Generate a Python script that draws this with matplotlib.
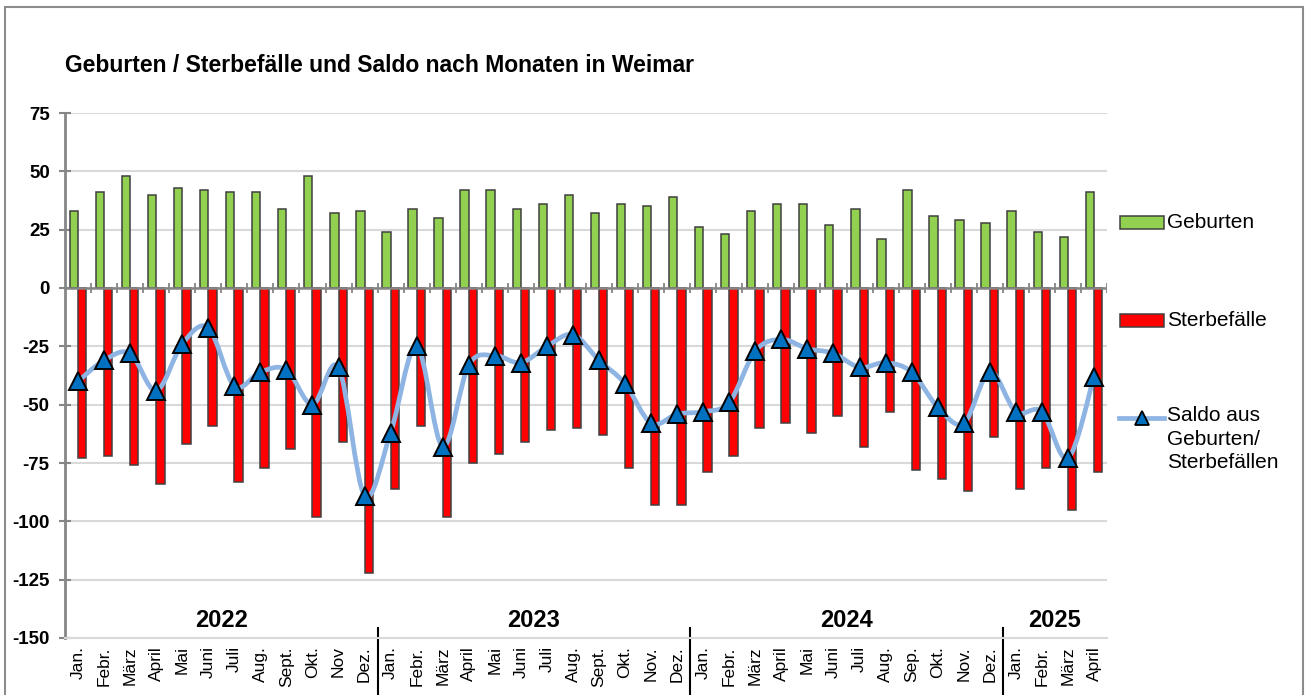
import matplotlib
matplotlib.use("Agg")
import matplotlib.pyplot as plt
import matplotlib.transforms as mtransforms
from matplotlib.path import Path
from matplotlib.patches import PathPatch, Rectangle
from matplotlib.lines import Line2D
import numpy as np

plt.rcParams['font.family'] = ['Liberation Sans', 'DejaVu Sans']

# ---- data ----
monate = ["Jan.", "Febr.", "März", "April", "Mai", "Juni", "Juli", "Aug.", "Sept.", "Okt.", "Nov", "Dez.",
          "Jan.", "Febr.", "März", "April", "Mai", "Juni", "Juli", "Aug.", "Sept.", "Okt.", "Nov.", "Dez.",
          "Jan.", "Febr.", "März", "April", "Mai", "Juni", "Juli", "Aug.", "Sep.", "Okt.", "Nov.", "Dez.",
          "Jan.", "Febr.", "März", "April"]
jahre = ["2022", "2023", "2024", "2025"]
monate_pro_jahr = [12, 12, 12, 4]

geburten = [33, 41, 48, 40, 43, 42, 41, 41, 34, 48, 32, 33,
            24, 34, 30, 42, 42, 34, 36, 40, 32, 36, 35, 39,
            26, 23, 33, 36, 36, 27, 34, 21, 42, 31, 29, 28,
            33, 24, 22, 41]
sterbefaelle = [-73, -72, -76, -84, -67, -59, -83, -77, -69, -98, -66, -122,
                -86, -59, -98, -75, -71, -66, -61, -60, -63, -77, -93, -93,
                -79, -72, -60, -58, -62, -55, -68, -53, -78, -82, -87, -64,
                -86, -77, -95, -79]
saldo = [-40, -31, -28, -44, -24, -17, -42, -36, -35, -50, -34, -89,
         -62, -25, -68, -33, -29, -32, -25, -20, -31, -41, -58, -54,
         -53, -49, -27, -22, -26, -28, -34, -32, -36, -51, -58, -36,
         -53, -53, -73, -38]

GREEN = "#92D050"
RED = "#FF0000"
LINE = "#8DB4E2"
MARK = "#0070C0"
AXGREY = "#868686"
GRID = "#D9D9D9"

W, H = 1305, 695
fig = plt.figure(figsize=(W / 100, H / 100), dpi=100)
fig.patch.set_facecolor("white")

def fx(px):
    return px / W

def fy(py):
    return 1 - py / H

ax = fig.add_axes([fx(65), fy(638), fx(1107 - 65), (638 - 113) / H])

x = np.arange(len(monate))
bw = 0.32

ax.bar(x - bw / 2, geburten, width=bw, color=GREEN, edgecolor="#404040", lw=1.1, zorder=3)
ax.bar(x + bw / 2, sterbefaelle, width=bw, color=RED, edgecolor="#404040", lw=1.1, zorder=3)

# smoothed saldo line (Excel style bezier through the points)
n = len(saldo)
verts = [(x[0], saldo[0])]
codes = [Path.MOVETO]
for i in range(n - 1):
    i0 = max(i - 1, 0)
    i3 = min(i + 2, n - 1)
    c1 = (x[i] + (x[i + 1] - x[i0]) / 6, saldo[i] + (saldo[i + 1] - saldo[i0]) / 6)
    c2 = (x[i + 1] - (x[i3] - x[i]) / 6, saldo[i + 1] - (saldo[i3] - saldo[i]) / 6)
    verts += [c1, c2, (x[i + 1], saldo[i + 1])]
    codes += [Path.CURVE4] * 3
ax.add_patch(PathPatch(Path(verts, codes), fill=False, edgecolor=LINE, lw=3.4,
                       capstyle="round", joinstyle="round", zorder=4))
ax.plot(x, saldo, ls="none", marker="^", ms=12.5, mfc=MARK, mec="black", mew=1.4, zorder=5)

# axes styling
ax.set_xlim(-0.5, len(monate) - 0.5)
ax.set_ylim(-150, 75)
ax.set_yticks(range(-150, 76, 25))
ax.set_yticklabels([str(v) for v in range(-150, 76, 25)], fontsize=13.5, fontweight="bold")
ax.yaxis.grid(True, color=GRID, lw=1.5, zorder=0)
ax.set_axisbelow(True)
ax.tick_params(axis="y", direction="inout", length=8, width=1.5, color=AXGREY, pad=7)
ax.set_xticks(x)
ax.set_xticklabels(monate, rotation=90, fontsize=12.5, va="top")
ax.tick_params(axis="x", length=0, pad=6)
for s in ["top", "right"]:
    ax.spines[s].set_visible(False)
ax.spines["left"].set_color(AXGREY)
ax.spines["left"].set_linewidth(2)
ax.spines["bottom"].set_color(GRID)
ax.spines["bottom"].set_linewidth(1.5)

# zero line with category tick marks
ax.axhline(0, color=AXGREY, lw=1.8, zorder=3.5)
ax.vlines(x + 0.5, -2, 2, color=AXGREY, lw=1.3, zorder=3.5)

# year group labels and separators
start = 0
trans = mtransforms.blended_transform_factory(ax.transData, ax.transAxes)
for jahr, cnt in zip(jahre, monate_pro_jahr):
    ax.text(start + (cnt - 1) / 2, -142.5, jahr, ha="center", va="center",
            fontsize=17, fontweight="bold")
    if start > 0:
        ax.plot([start - 0.5, start - 0.5], [0.02, -0.2], transform=trans,
                color="black", lw=1.5, clip_on=False)
    start += cnt

# title
fig.text(fx(65), fy(66), "Geburten / Sterbefälle und Saldo nach Monaten in Weimar",
         fontsize=16.5, fontweight="bold", va="center", ha="left")

# legend (manual, to follow the spaced-out layout)
fig.add_artist(Rectangle((fx(1120), fy(229)), fx(44), 13 / H, transform=fig.transFigure,
                         facecolor=GREEN, edgecolor="#404040", lw=1.1))
fig.text(fx(1167), fy(222), "Geburten", fontsize=15, va="center", ha="left")
fig.add_artist(Rectangle((fx(1120), fy(327)), fx(44), 13 / H, transform=fig.transFigure,
                         facecolor=RED, edgecolor="#404040", lw=1.1))
fig.text(fx(1167), fy(320), "Sterbefälle", fontsize=15, va="center", ha="left")
fig.add_artist(Line2D([fx(1119), fx(1164)], [fy(418), fy(418)], transform=fig.transFigure,
                      color=LINE, lw=3.4))
fig.add_artist(Line2D([fx(1142)], [fy(418)], transform=fig.transFigure, ls="none",
                      marker="^", ms=10, mfc=MARK, mec="black", mew=1.3))
fig.text(fx(1167), fy(406), "Saldo aus\nGeburten/\nSterbefällen", fontsize=15,
         va="top", ha="left", linespacing=1.3)

# outer chart frame
fig.add_artist(Rectangle((fx(5), -0.1), fx(1298), 1.1 - 7 / H, transform=fig.transFigure,
                         fill=False, edgecolor="#8c8c8c", lw=1.5))

fig.savefig("out.png", dpi=100)
